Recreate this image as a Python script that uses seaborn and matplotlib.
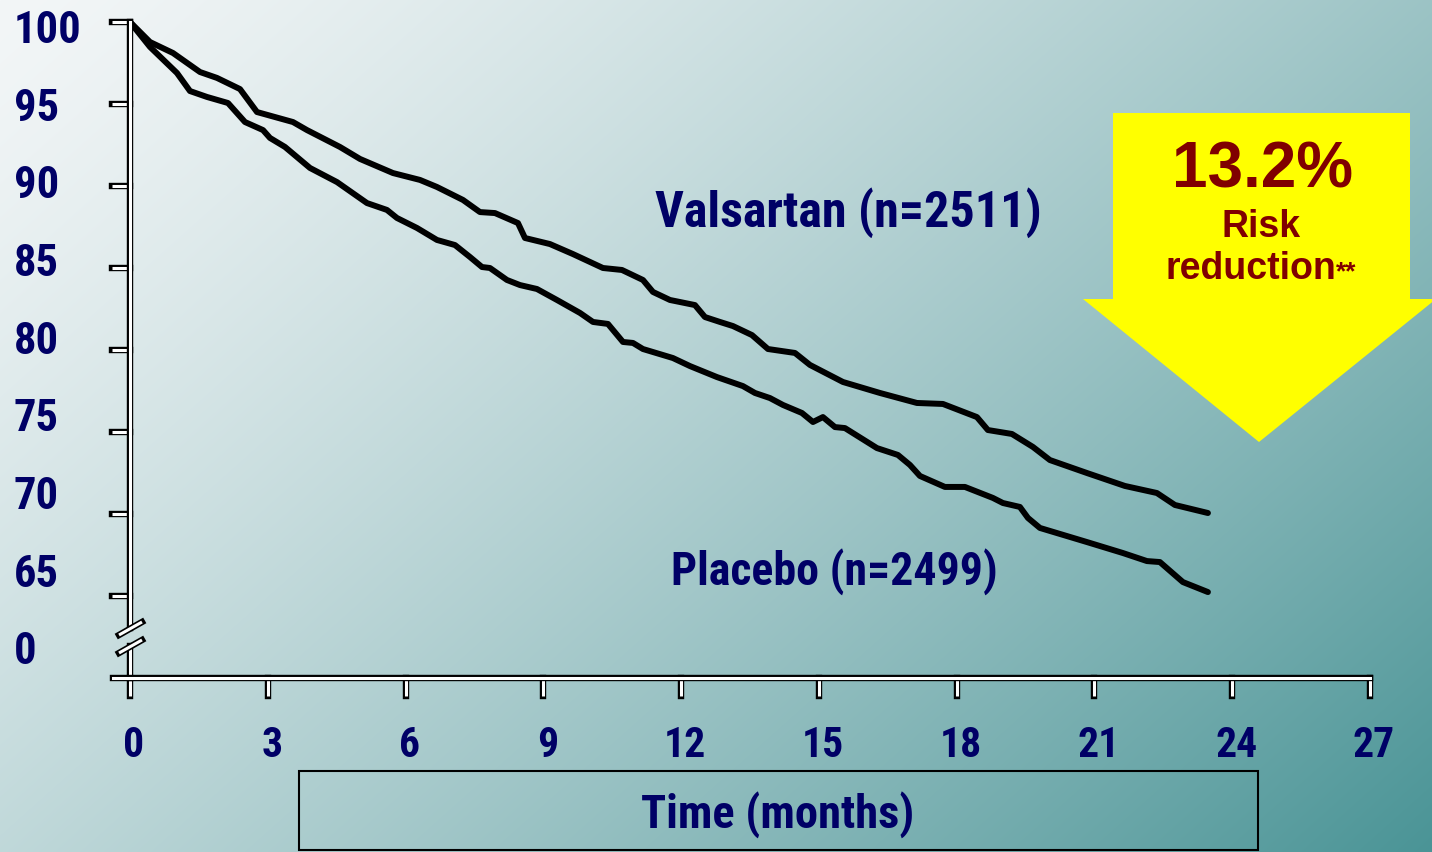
import numpy as np
import pandas as pd
import matplotlib
matplotlib.use("Agg")
import matplotlib.pyplot as plt
import matplotlib.patheffects as pe
from matplotlib.patches import Polygon, Rectangle
from matplotlib.transforms import ScaledTranslation
from matplotlib import font_manager
import seaborn as sns

# ---------------- data ----------------
months_valsartan = [0.0, 0.435, 0.936, 1.524, 1.894, 2.395, 2.765, 3.549, 3.854, 4.572, 5.008,
                    5.726, 6.314, 6.684, 7.250, 7.620, 7.947, 8.448, 8.600, 9.144, 9.645, 10.298,
                    10.712, 11.169, 11.387, 11.757, 12.301, 12.519, 12.846, 13.129, 13.543, 13.891,
                    14.479, 14.805, 15.524, 16.329, 17.135, 17.701, 18.441, 18.680, 19.203, 19.660,
                    20.030, 20.836, 21.663, 22.360, 22.752, 23.471]
surv_valsartan = [100.0, 98.78, 98.11, 96.95, 96.59, 95.91, 94.51, 93.90, 93.41, 92.38, 91.65,
                  90.79, 90.37, 89.94, 89.15, 88.41, 88.35, 87.74, 86.83, 86.46, 85.85, 85.00,
                  84.88, 84.27, 83.54, 83.05, 82.74, 82.01, 81.71, 81.46, 80.91, 80.06,
                  79.82, 79.09, 78.05, 77.38, 76.77, 76.71, 75.91, 75.12, 74.88, 74.09,
                  73.29, 72.50, 71.71, 71.28, 70.55, 70.06]

months_placebo = [0.0, 0.435, 1.023, 1.306, 1.676, 2.134, 2.504, 2.896, 3.048, 3.375, 3.919,
                  4.507, 5.160, 5.595, 5.813, 6.249, 6.684, 7.076, 7.403, 7.664, 7.838, 8.208,
                  8.491, 8.861, 9.297, 9.798, 10.081, 10.407, 10.734, 10.952, 11.169, 11.822,
                  12.193, 12.780, 13.346, 13.608, 13.934, 14.217, 14.631, 14.871, 15.088, 15.350,
                  15.567, 16.264, 16.721, 16.983, 17.200, 17.744, 18.180, 18.789, 19.007, 19.377,
                  19.552, 19.813, 20.836, 21.620, 22.143, 22.425, 22.926, 23.471]
surv_placebo = [100.0, 98.48, 96.89, 95.79, 95.43, 95.06, 93.90, 93.41, 92.93, 92.38, 91.10,
                90.24, 88.96, 88.54, 88.05, 87.44, 86.71, 86.40, 85.67, 85.06, 85.00, 84.27,
                83.96, 83.72, 83.05, 82.26, 81.71, 81.59, 80.49, 80.43, 80.06, 79.51,
                79.02, 78.35, 77.80, 77.38, 77.07, 76.65, 76.16, 75.61, 75.91, 75.30,
                75.24, 74.02, 73.60, 72.99, 72.32, 71.65, 71.65, 70.98, 70.67, 70.43,
                69.76, 69.15, 68.29, 67.62, 67.13, 67.07, 65.85, 65.24]

series_names = ["Valsartan (n=2511)", "Placebo (n=2499)"]
x_ticks = [0, 3, 6, 9, 12, 15, 18, 21, 24, 27]
y_ticks = [65, 70, 75, 80, 85, 90, 95, 100]
y_tick_labels = ["0", "65", "70", "75", "80", "85", "90", "95", "100"]
x_label = "Time (months)"
risk_value = "13.2%"
risk_line1 = "Risk"
risk_line2 = "reduction"
risk_note = "**"

df = pd.concat([
    pd.DataFrame({"month": months_valsartan, "survival": surv_valsartan, "group": series_names[0]}),
    pd.DataFrame({"month": months_placebo, "survival": surv_placebo, "group": series_names[1]}),
])

# ---------------- style ----------------
sns.set_theme(style="white")
plt.rcParams["font.family"] = ["Liberation Sans", "DejaVu Sans"]
plt.rcParams["font.weight"] = "bold"


def _is_bold(w):
    if isinstance(w, str):
        return "bold" in w.lower() or w.lower() in ("heavy", "black")
    return w >= 600


def _is_cond(f):
    st = f.stretch
    nm = f.name.lower()
    if "narrow" in nm or "condensed" in nm or "cond" in nm:
        return True
    if isinstance(st, str):
        return "condensed" in st
    return st < 500


def find_condensed():
    prefs = ["liberation sans narrow", "arial narrow", "roboto condensed", "open sans condensed",
             "dejavu sans", "noto sans", "open sans", "roboto"]
    cands = [f for f in font_manager.fontManager.ttflist if _is_cond(f) and _is_bold(f.weight)
             and "mono" not in f.name.lower() and "serif" not in f.name.lower()
             and "italic" not in f.style and "oblique" not in f.style]
    for p in prefs:
        for f in cands:
            if f.name.lower().startswith(p):
                return f.fname
    return cands[0].fname if cands else None


COND = find_condensed()
SCALE = 1.0 if COND else 0.86


def nfont(size):
    if COND:
        return font_manager.FontProperties(fname=COND, size=size)
    return font_manager.FontProperties(family=["Liberation Sans", "DejaVu Sans"],
                                       weight="bold", size=size * SCALE)


NAVY = "#000066"
DARKRED = "#800000"
W, H = 1432, 852

fig = plt.figure(figsize=(W / 100, H / 100), dpi=100)

# background gradient
bg = fig.add_axes([0, 0, 1, 1], zorder=-5)
yy, xx = np.mgrid[0:H, 0:W]
t = 0.6 * xx / W + 0.4 * yy / H
f = t ** 1.3
c0 = np.array([243, 246, 247]) / 255.0
c1 = np.array([74, 148, 150]) / 255.0
img = c0 + (c1 - c0) * f[..., None]
bg.imshow(img, extent=[0, 1, 0, 1], aspect="auto", origin="upper")
bg.axis("off")

# main axes (pixel layout: x 113..1370, y 22..678)
AX_L, AX_R, AX_T, AX_B = 113, 1370, 22, 678
pos = [AX_L / W, 1 - AX_B / H, (AX_R - AX_L) / W, (AX_B - AX_T) / H]
ax = fig.add_axes(pos, zorder=1)
ax.set_facecolor("none")

sns.lineplot(data=df, x="month", y="survival", hue="group",
             palette={series_names[0]: "black", series_names[1]: "black"},
             estimator=None, legend=False, linewidth=4.3, ax=ax)
for ln in ax.lines:
    ln.set_clip_on(False)
    ln.set_solid_joinstyle("round")
    ln.set_zorder(2)

ax.set_xlim((AX_L - 130) / (1240 / 27), 27)
ax.set_ylim(60, 100)
ax.set_xlabel("")
ax.set_ylabel("")

outline = [pe.Stroke(linewidth=4.6, foreground="black", capstyle="projecting"), pe.Normal()]
for s in ["top", "right"]:
    ax.spines[s].set_visible(False)
ax.spines["left"].set_position(("data", 0))
ax.spines["left"].set_bounds(63.02, 100)
for s in ["left", "bottom"]:
    ax.spines[s].set_color("white")
    ax.spines[s].set_linewidth(2.2)
    ax.spines[s].set_path_effects(outline)
    ax.spines[s].set_zorder(3)

ax.set_xticks(x_ticks)
ax.set_xticklabels([str(v) for v in x_ticks])
ax.set_yticks(y_ticks)
ax.set_yticklabels([])
ax.tick_params(axis="both", direction="out", length=13, width=2.2, color="white",
               bottom=True, left=True)
ax.tick_params(axis="x", pad=21, labelcolor=NAVY)
for tk in ax.xaxis.get_major_ticks() + ax.yaxis.get_major_ticks():
    tk.tick1line.set_path_effects(outline)
shift = ScaledTranslation(4 / 100, 0, fig.dpi_scale_trans)
for lab in ax.get_xticklabels():
    lab.set_fontproperties(nfont(30))
    lab.set_transform(lab.get_transform() + shift)

# lower piece of the broken y axis and break marks
ax.vlines(0, 60, 61.95, colors="white", linewidth=2.2, zorder=3, path_effects=outline, clip_on=False)


def ax_frac(px, py):
    return (px - AX_L) / (AX_R - AX_L), (AX_B - py) / (AX_B - AX_T)


for (p0, p1) in [((119, 635), (142, 622)), ((119, 653), (142, 640))]:
    a = ax_frac(*p0)
    b = ax_frac(*p1)
    ax.plot([a[0], b[0]], [a[1], b[1]], transform=ax.transAxes, color="white",
            linewidth=2.2, solid_capstyle="butt", clip_on=False, zorder=4,
            path_effects=outline)

# y tick labels (placed as in the original slide)
ax2 = fig.add_axes(pos, zorder=2)
ax2.set_facecolor("none")
ax2.set_ylim(-0.3862, 8.058)
ax2.set_yticks(range(len(y_tick_labels)))
ax2.set_yticklabels(y_tick_labels)
ax2.set_xticks([])
for sp in ax2.spines.values():
    sp.set_visible(False)
ax2.tick_params(axis="y", length=0, pad=71.3, labelcolor=NAVY, left=True)
for lab in ax2.get_yticklabels():
    lab.set_ha("left")
    lab.set_fontproperties(nfont(32))

# overlay for annotations (pixel coordinates)
ov = fig.add_axes([0, 0, 1, 1], zorder=3)
ov.set_facecolor("none")
ov.set_xlim(0, W)
ov.set_ylim(H, 0)
ov.axis("off")

ov.add_patch(Polygon([(1113, 113), (1410, 113), (1410, 299), (1436, 299), (1259, 442),
                      (1083, 299), (1113, 299)], closed=True, facecolor="#ffff00",
                     edgecolor="none"))
wide = dict(family=["Liberation Sans", "DejaVu Sans"], fontweight="bold", color=DARKRED,
            va="baseline")
ov.text(1262, 187, risk_value, fontsize=46, ha="center", **wide)
ov.text(1261, 237, risk_line1, fontsize=27, ha="center", **wide)
ov.text(1336, 279, risk_line2, fontsize=27, ha="right", **wide)
ov.text(1336, 279, risk_note, fontsize=19, ha="left", **wide)

ov.text(655, 227, series_names[0], fontproperties=nfont(36), color=NAVY, ha="left",
        va="baseline")
ov.text(671, 585, series_names[1], fontproperties=nfont(33), color=NAVY, ha="left",
        va="baseline")

ov.add_patch(Rectangle((299, 771), 959, 79, fill=False, edgecolor="black", linewidth=1.5))
ov.text(778, 828, x_label, fontproperties=nfont(33.5), color=NAVY, ha="center",
        va="baseline")

fig.savefig("out.png", dpi=100)
